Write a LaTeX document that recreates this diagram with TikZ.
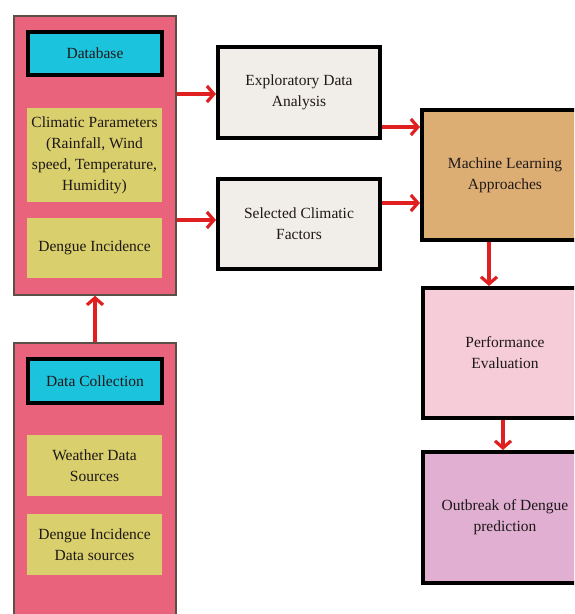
\documentclass[tikz,border=0pt]{standalone}
\usepackage{fontspec}
\setmainfont{Liberation Serif}
\usetikzlibrary{arrows.meta}
\definecolor{pinkbg}{HTML}{E9637D}
\definecolor{cyanbx}{HTML}{1CC3DD}
\definecolor{yellbx}{HTML}{D9CF6C}
\definecolor{mlbx}{HTML}{DDAE74}
\definecolor{pebx}{HTML}{F5CCD8}
\definecolor{outbx}{HTML}{E0AFD2}
\definecolor{edabx}{HTML}{F1EEEA}
\definecolor{arrred}{HTML}{E02020}
\definecolor{txt}{HTML}{1E1818}
\definecolor{thinb}{HTML}{5A5048}
\tikzset{
  every node/.style={font=\fontsize{15.5}{21}\selectfont, text=txt, align=center, inner sep=0pt},
  panel/.style={draw=thinb, line width=1.5pt, fill=pinkbg, rectangle},
  headbox/.style={draw=black, line width=3.5pt, fill=cyanbx, rectangle},
  itembox/.style={fill=yellbx, rectangle},
  stepbox/.style={draw=black, line width=4pt, rectangle},
  arr/.style={draw=arrred, line width=3.2pt, -{Straight Barb[length=7pt,width=16pt,line width=3.2pt]}}
}
\begin{document}
\begin{tikzpicture}[x=1pt,y=-1pt]
\useasboundingbox (0,0) rectangle (574,614);
\fill[white] (0,0) rectangle (574,614);
\clip (0,0) rectangle (574,614);
% left panels
\node[panel, minimum width=162pt, minimum height=279pt] (db) at (95,155.5) {};
\node[headbox, minimum width=134pt, minimum height=43pt] (dbh) at (95,53.5) {Database};
\node[itembox, minimum width=135pt, minimum height=94pt] (clim) at (94.5,155) {Climatic Parameters\\(Rainfall, Wind\\speed, Temperature,\\Humidity)};
\node[itembox, minimum width=135pt, minimum height=60pt] (dinc) at (94.5,248) {Dengue Incidence};

\node[panel, minimum width=162pt, minimum height=287pt] (dc) at (95,486.5) {};
\node[headbox, minimum width=134pt, minimum height=44pt] (dch) at (95,381) {Data Collection};
\node[itembox, minimum width=135pt, minimum height=61pt] (wds) at (94.5,465.5) {Weather Data\\Sources};
\node[itembox, minimum width=135pt, minimum height=61pt] (dids) at (94.5,544.5) {Dengue Incidence\\Data sources};

% middle
\node[stepbox, fill=edabx, minimum width=162pt, minimum height=91pt] (eda) at (299,92.5) {Exploratory Data\\Analysis};
\node[stepbox, fill=edabx, minimum width=162pt, minimum height=90pt] (sel) at (299,224) {Selected Climatic\\Factors};

% right
\node[stepbox, fill=mlbx, minimum width=166pt, minimum height=130pt] (ml) at (505,175) {Machine Learning\\Approaches};
\node[stepbox, fill=pebx, minimum width=164pt, minimum height=130pt] (pe) at (505,353) {Performance\\Evaluation};
\node[stepbox, fill=outbx, minimum width=164pt, minimum height=131pt] (out) at (505,517.5) {Outbreak of Dengue\\prediction};

% connectors
\coordinate (a1) at (0,127);
\coordinate (a2) at (0,203);
\coordinate (a3) at (489,0);
\coordinate (a4) at (503,0);
\coordinate (a5) at (0,94);
\coordinate (a6) at (0,220);
\draw[arr] (db.east |- a5) -- (eda.west |- a5);
\draw[arr] (db.east |- a6) -- (sel.west |- a6);
\draw[arr] (eda.east |- a1) -- (ml.west |- a1);
\draw[arr] (sel.east |- a2) -- (ml.west |- a2);
\draw[arr] (ml.south -| a3) -- (pe.north -| a3);
\draw[arr] (pe.south -| a4) -- (out.north -| a4);
\draw[arr] (dc.north) -- (db.south);
\end{tikzpicture}
\end{document}
